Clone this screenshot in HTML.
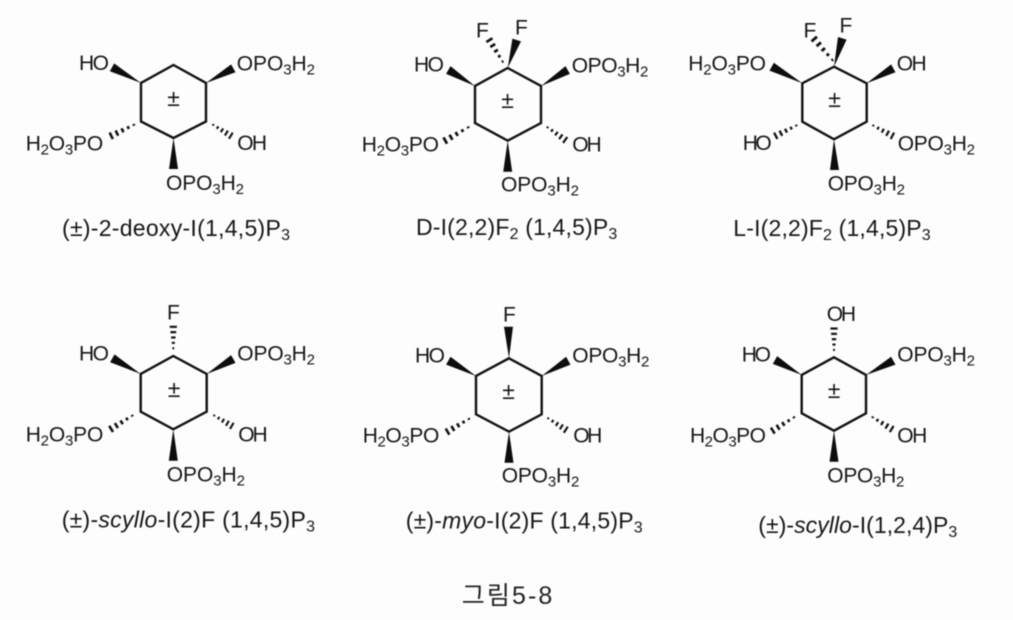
<!DOCTYPE html>
<html lang="ko">
<head>
<meta charset="utf-8">
<title>그림5-8</title>
<style>
html,body{margin:0;padding:0;background:#fdfdfd;width:1013px;height:620px;overflow:hidden}
svg{display:block;filter:blur(.45px)}
text{font-family:"Liberation Sans","Noto Sans CJK KR",sans-serif;font-size:21px;fill:#161616}
.cap{font-size:23px}
.pm{font-size:23px;text-anchor:middle}
.kr{font-size:25px;fill:#222}
.ring{fill:none;stroke:#111;stroke-width:2.4;stroke-linejoin:miter}
.w{fill:#0d0d0d}
</style>
</head>
<body>
<svg xmlns="http://www.w3.org/2000/svg" width="1013" height="620" viewBox="0 0 1013 620">
<defs>
<g id="h" fill="#111">
<rect x="0" y="-.9" width="9" height="1.8"/>
<rect x="22" y="-1.5" width="9" height="3"/>
<rect x="44" y="-2.2" width="9" height="4.4"/>
<rect x="66" y="-2.9" width="9" height="5.8"/>
<rect x="88" y="-3.6" width="9" height="7.2"/>
</g>
</defs>

<!-- Molecule 1 -->
<path class="ring" d="M173.5 65 L206 83 L206 121.5 L173.5 138 L141 121.5 L141 83 Z"/>
<polygon class="w" points="141,83 109.8,71.2 114.2,63.4"/>
<polygon class="w" points="206,83 235.5,72.2 231.1,64.4"/>
<polygon class="w" points="173.5,138 169,169 178,169"/>
<use href="#h" transform="matrix(-.257,.124,-.434,-.9,135,124.3)"/>
<use href="#h" transform="matrix(.2,.124,-.527,.85,212.3,124.3)"/>
<text class="pm" x="173.5" y="106">±</text>
<text x="79" y="70" textLength="30">HO</text>
<text x="236.7" y="70.7" textLength="78.3">OPO<tspan font-size="15" dy="4">3</tspan><tspan dy="-4">H</tspan><tspan font-size="15" dy="4">2</tspan></text>
<text x="25.7" y="150.7" textLength="77.5">H<tspan font-size="15" dy="4">2</tspan><tspan dy="-4">O</tspan><tspan font-size="15" dy="4">3</tspan><tspan dy="-4">PO</tspan></text>
<text x="237.3" y="150" textLength="29.7">OH</text>
<text x="166" y="190" textLength="78">OPO<tspan font-size="15" dy="4">3</tspan><tspan dy="-4">H</tspan><tspan font-size="15" dy="4">2</tspan></text>
<text class="cap" x="62" y="236" textLength="228">(±)-2-deoxy-I(1,4,5)P<tspan font-size="16" dy="4">3</tspan></text>

<!-- Molecule 2 -->
<path class="ring" d="M507.7 68 L541 86 L541 123 L507.7 140.7 L475 123 L475 86 Z"/>
<polygon class="w" points="507.7,68 521,41.4 512.4,38.6"/>
<polygon class="w" points="475,86 446.1,73.9 450.5,66.1"/>
<polygon class="w" points="541,86 569.9,73.9 565.5,66.1"/>
<polygon class="w" points="507.7,140.7 503.2,171.7 512.2,171.7"/>
<use href="#h" transform="matrix(-.15,-.244,.85,-.52,503.3,62.7)"/>
<use href="#h" transform="matrix(-.26,.15,-.5,-.866,469.3,126.7)"/>
<use href="#h" transform="matrix(.2,.143,-.58,.81,546.7,126.7)"/>
<text class="pm" x="507.5" y="108">±</text>
<text x="476" y="37.7">F</text>
<text x="515" y="34.3">F</text>
<text x="414" y="71.7" textLength="30">HO</text>
<text x="571.7" y="72.3" textLength="76.6">OPO<tspan font-size="15" dy="4">3</tspan><tspan dy="-4">H</tspan><tspan font-size="15" dy="4">2</tspan></text>
<text x="361.7" y="151.7" textLength="77.3">H<tspan font-size="15" dy="4">2</tspan><tspan dy="-4">O</tspan><tspan font-size="15" dy="4">3</tspan><tspan dy="-4">PO</tspan></text>
<text x="572.3" y="151.7" textLength="29.4">OH</text>
<text x="501" y="191.7" textLength="78">OPO<tspan font-size="15" dy="4">3</tspan><tspan dy="-4">H</tspan><tspan font-size="15" dy="4">2</tspan></text>
<text class="cap" x="416" y="235" textLength="201.3">D-I(2,2)F<tspan font-size="16" dy="4">2</tspan><tspan dy="-4"> (1,4,5)P</tspan><tspan font-size="16" dy="4">3</tspan></text>

<!-- Molecule 3 -->
<path class="ring" d="M834 66.7 L866.7 83.3 L866.7 121.7 L834 139.3 L802.3 121.7 L802.3 83.3 Z"/>
<polygon class="w" points="834,66.7 846.6,39.6 838,37"/>
<polygon class="w" points="802.3,83.3 769.5,70.6 773.9,62.8"/>
<polygon class="w" points="866.7,83.3 895.5,72.2 891.1,64.4"/>
<polygon class="w" points="834,139.3 830,170 839,170"/>
<use href="#h" transform="matrix(-.206,-.237,.755,-.656,833.3,61)"/>
<use href="#h" transform="matrix(-.233,.117,-.45,-.89,797.3,125)"/>
<use href="#h" transform="matrix(.217,.117,-.474,.88,872.3,125)"/>
<text class="pm" x="834.5" y="107">±</text>
<text x="803.5" y="37.3">F</text>
<text x="839.5" y="32.3">F</text>
<text x="688.3" y="70.7" textLength="77.7">H<tspan font-size="15" dy="4">2</tspan><tspan dy="-4">O</tspan><tspan font-size="15" dy="4">3</tspan><tspan dy="-4">PO</tspan></text>
<text x="896.7" y="70.7" textLength="30">OH</text>
<text x="742.7" y="150" textLength="29">HO</text>
<text x="897.7" y="150.7" textLength="77.3">OPO<tspan font-size="15" dy="4">3</tspan><tspan dy="-4">H</tspan><tspan font-size="15" dy="4">2</tspan></text>
<text x="827.7" y="190.7" textLength="77.3">OPO<tspan font-size="15" dy="4">3</tspan><tspan dy="-4">H</tspan><tspan font-size="15" dy="4">2</tspan></text>
<text class="cap" x="733.3" y="236" textLength="197.4">L-I(2,2)F<tspan font-size="16" dy="4">2</tspan><tspan dy="-4"> (1,4,5)P</tspan><tspan font-size="16" dy="4">3</tspan></text>

<!-- Molecule 4 -->
<path class="ring" d="M173.3 356 L206.7 374 L206.7 411.7 L173.3 429.3 L140.7 411.7 L140.7 374 Z"/>
<polygon class="w" points="140.7,374 110.1,362.2 114.5,354.4"/>
<polygon class="w" points="206.7,374 235.5,362.9 231.1,355.1"/>
<polygon class="w" points="173.3,429.3 168.8,460.7 177.8,460.7"/>
<use href="#h" transform="matrix(0,-.243,1,0,173.3,349.3)"/>
<use href="#h" transform="matrix(-.24,.15,-.53,-.85,133.3,415)"/>
<use href="#h" transform="matrix(.2,.117,-.5,.86,213.3,415)"/>
<text class="pm" x="174" y="397">±</text>
<text x="167" y="319.3">F</text>
<text x="79" y="360.7" textLength="30">HO</text>
<text x="237.3" y="360.7" textLength="77.7">OPO<tspan font-size="15" dy="4">3</tspan><tspan dy="-4">H</tspan><tspan font-size="15" dy="4">2</tspan></text>
<text x="25.7" y="441.7" textLength="77.6">H<tspan font-size="15" dy="4">2</tspan><tspan dy="-4">O</tspan><tspan font-size="15" dy="4">3</tspan><tspan dy="-4">PO</tspan></text>
<text x="238.3" y="441.7" textLength="29.4">OH</text>
<text x="166.7" y="481.7" textLength="78.3">OPO<tspan font-size="15" dy="4">3</tspan><tspan dy="-4">H</tspan><tspan font-size="15" dy="4">2</tspan></text>
<text class="cap" x="61.7" y="527.3" textLength="253.3">(±)-<tspan font-style="italic">scyllo</tspan>-I(2)F (1,4,5)P<tspan font-size="16" dy="4">3</tspan></text>

<!-- Molecule 5 -->
<path class="ring" d="M509 358.3 L541.7 376 L541.7 414.3 L509 431.7 L476 414.3 L476 376 Z"/>
<polygon class="w" points="509,358.3 504,326.7 513,326.7"/>
<polygon class="w" points="476,376 446.1,364.6 450.5,356.8"/>
<polygon class="w" points="541.7,376 570.5,364.6 566.1,356.8"/>
<polygon class="w" points="509,431.7 504.5,462.7 513.5,462.7"/>
<use href="#h" transform="matrix(-.243,.144,-.51,-.86,470,418.3)"/>
<use href="#h" transform="matrix(.2,.13,-.545,.84,547.3,417.7)"/>
<text class="pm" x="508.5" y="399">±</text>
<text x="503" y="321.7">F</text>
<text x="415" y="362.3" textLength="30">HO</text>
<text x="572.3" y="362.7" textLength="77">OPO<tspan font-size="15" dy="4">3</tspan><tspan dy="-4">H</tspan><tspan font-size="15" dy="4">2</tspan></text>
<text x="362.7" y="442.7" textLength="76.6">H<tspan font-size="15" dy="4">2</tspan><tspan dy="-4">O</tspan><tspan font-size="15" dy="4">3</tspan><tspan dy="-4">PO</tspan></text>
<text x="573.3" y="442.7" textLength="29">OH</text>
<text x="501.7" y="482.7" textLength="77.6">OPO<tspan font-size="15" dy="4">3</tspan><tspan dy="-4">H</tspan><tspan font-size="15" dy="4">2</tspan></text>
<text class="cap" x="405.7" y="528.3" textLength="237">(±)-<tspan font-style="italic">myo</tspan>-I(2)F (1,4,5)P<tspan font-size="16" dy="4">3</tspan></text>

<!-- Molecule 6 -->
<path class="ring" d="M834 357.3 L866 375 L866 413.3 L834 430.7 L801.7 413.3 L801.7 375 Z"/>
<polygon class="w" points="801.7,375 772.8,363.9 777.2,356.1"/>
<polygon class="w" points="866,375 895.5,364.6 891.1,356.8"/>
<polygon class="w" points="834,430.7 829.5,461.7 838.5,461.7"/>
<use href="#h" transform="matrix(0,-.243,1,0,834,351)"/>
<use href="#h" transform="matrix(-.24,.15,-.53,-.85,795,416.7)"/>
<use href="#h" transform="matrix(.216,.133,-.524,.85,871.7,416.7)"/>
<text class="pm" x="834" y="398">±</text>
<text x="826.7" y="321" textLength="29.3">OH</text>
<text x="741.7" y="361.7" textLength="29.3">HO</text>
<text x="897.3" y="361.7" textLength="77.7">OPO<tspan font-size="15" dy="4">3</tspan><tspan dy="-4">H</tspan><tspan font-size="15" dy="4">2</tspan></text>
<text x="690" y="442.3" textLength="76">H<tspan font-size="15" dy="4">2</tspan><tspan dy="-4">O</tspan><tspan font-size="15" dy="4">3</tspan><tspan dy="-4">PO</tspan></text>
<text x="897.3" y="442.3" textLength="30">OH</text>
<text x="827.3" y="482.7" textLength="77">OPO<tspan font-size="15" dy="4">3</tspan><tspan dy="-4">H</tspan><tspan font-size="15" dy="4">2</tspan></text>
<text class="cap" x="758.3" y="533" textLength="199">(±)-<tspan font-style="italic">scyllo</tspan>-I(1,2,4)P<tspan font-size="16" dy="4">3</tspan></text>

<!-- Figure label -->
<text class="kr" x="461.7" y="604" textLength="90.6">그림5-8</text>
</svg>
</body>
</html>
